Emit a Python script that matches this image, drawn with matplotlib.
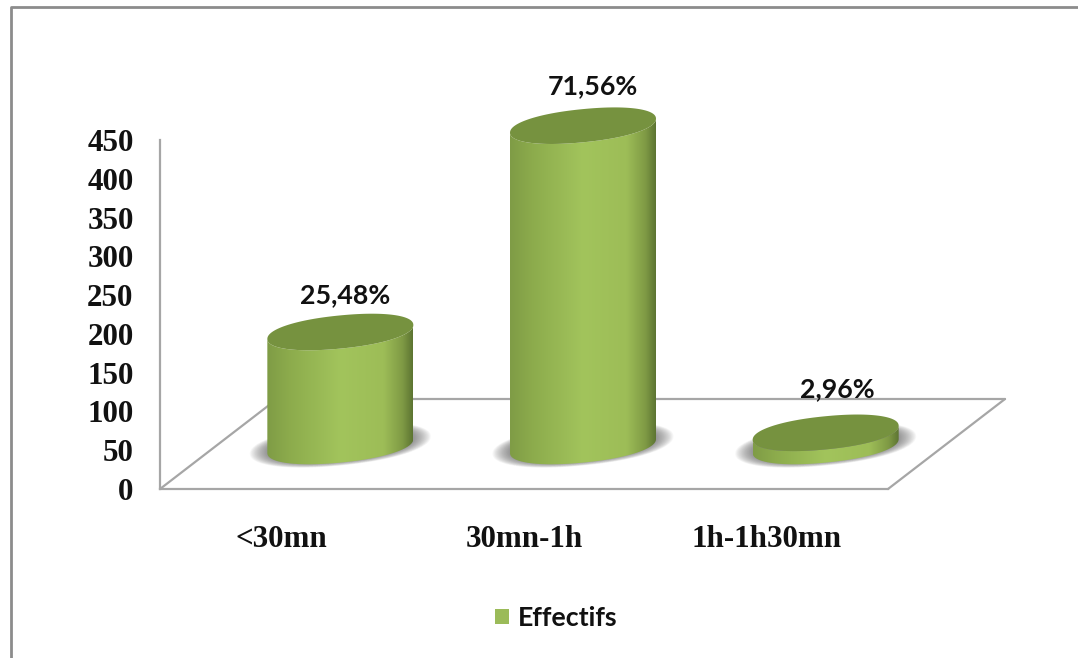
import numpy as np
import matplotlib
matplotlib.use('Agg')
import matplotlib.pyplot as plt
from matplotlib.colors import LinearSegmentedColormap
from matplotlib.lines import Line2D
from matplotlib.patches import Patch, Polygon

categories = ['<30mn', '30mn-1h', '1h-1h30mn']
effectifs = [147, 413, 17]
percent_labels = ['25,48%', '71,56%', '2,96%']
y_ticks = [0, 50, 100, 150, 200, 250, 300, 350, 400, 450]

WIDTH, HEIGHT = 1078, 658
AX_LEFT, AX_RIGHT, AX_BOTTOM, AX_TOP = 160, 888, 489, 140
X_PER_PX = 3 / (AX_RIGHT - AX_LEFT)
Y_PER_PX = 450 / (AX_BOTTOM - AX_TOP)

# floor depth and where the cylinders stand on it, in pixels
DEPTH_X, DEPTH_Y = 117, 90
BASE_X, BASE_Y = 59, 43
# ellipse of a cylinder end: half width, tilt at the tips, half height
HALF_W, TILT, HALF_H = 73, 7, 16.6
# below 1 gives the ends fuller shoulders than a plain ellipse
ROUNDNESS = 0.93

GREY = '#a6a6a6'
body_cmap = LinearSegmentedColormap.from_list('body', [
    (0.0, '#7f9c46'), (0.15, '#8cab4c'), (0.5, '#a2c45c'),
    (0.8, '#9dbd57'), (0.93, '#7f9a45'), (1.0, '#5d7532')])


def ellipse_points(xc, yc, t, scale=1.0):
    c = np.sign(np.cos(t)) * np.abs(np.cos(t)) ** ROUNDNESS
    s = np.sign(np.sin(t)) * np.abs(np.sin(t)) ** ROUNDNESS
    x = xc + scale * HALF_W * c * X_PER_PX
    y = yc + scale * (TILT * c + HALF_H * s) * Y_PER_PX
    return np.column_stack([x, y])


def draw_cylinder(ax, pos, value):
    xc = pos + BASE_X * X_PER_PX
    y0 = BASE_Y * Y_PER_PX
    y1 = y0 + value

    # soft shadow on the floor
    whole = np.linspace(0, 2 * np.pi, 160)
    for scale in np.linspace(1.24, 0.95, 26):
        pts = ellipse_points(xc, y0 + 1 * Y_PER_PX, whole, scale)
        ax.add_patch(Polygon(pts, facecolor='#555555', edgecolor='none',
                             alpha=0.04, zorder=2, clip_on=False))

    front = np.linspace(np.pi, 2 * np.pi, 100)
    outline = np.vstack([ellipse_points(xc, y0, front),
                         ellipse_points(xc, y1, front[::-1])])
    clip = Polygon(outline, transform=ax.transData, facecolor='none', edgecolor='none')
    ax.add_patch(clip)
    grad = np.linspace(0, 1, 256).reshape(1, -1)
    ymin, ymax = y0 - 30 * Y_PER_PX, y1 + 30 * Y_PER_PX
    im = ax.imshow(grad, cmap=body_cmap, aspect='auto', zorder=3,
                   extent=[xc - HALF_W * X_PER_PX, xc + HALF_W * X_PER_PX, ymin, ymax])
    im.set_clip_box(ax.figure.bbox)
    im.set_clip_path(clip)

    ax.add_patch(Polygon(ellipse_points(xc, y1, whole), facecolor='#76923f',
                         edgecolor='none', zorder=4, clip_on=False))
    return xc, y1


fig = plt.figure(figsize=(WIDTH / 100, HEIGHT / 100), dpi=100, facecolor='white')
ax = fig.add_axes([AX_LEFT / WIDTH, 1 - AX_BOTTOM / HEIGHT,
                   (AX_RIGHT - AX_LEFT) / WIDTH, (AX_BOTTOM - AX_TOP) / HEIGHT])

# floor of the 3D box
dx, dy = DEPTH_X * X_PER_PX, DEPTH_Y * Y_PER_PX
floor_style = dict(color=GREY, lw=1.6, zorder=1, clip_on=False, solid_capstyle='round')
ax.plot([-0.5, -0.5 + dx], [0, dy], **floor_style)
ax.plot([2.5, 2.5 + dx], [0, dy], **floor_style)
ax.plot([-0.5 + dx, 2.5 + dx], [dy, dy], **floor_style)

# label lift above the cylinder top and shift to the right, pixels
label_lift = [37, 40, 44]
label_shift = [5, 10, 12]
for i, value in enumerate(effectifs):
    xc, top = draw_cylinder(ax, i, value)
    ax.text(xc + label_shift[i] * X_PER_PX, top + label_lift[i] * Y_PER_PX,
            percent_labels[i], ha='center', va='center', family='Lato',
            fontweight='bold', fontsize=19.3, color='#111111', zorder=6, clip_on=False)

ax.set_xlim(-0.5, 2.5)
ax.set_ylim(0, 450)
ax.spines['top'].set_visible(False)
ax.spines['right'].set_visible(False)
for side in ['left', 'bottom']:
    ax.spines[side].set_color(GREY)
    ax.spines[side].set_linewidth(1.6)
ax.patch.set_alpha(0)

ax.set_yticks(y_ticks)
ax.set_xticks(range(len(categories)))
ax.set_xticklabels(categories)
ax.tick_params(axis='y', length=0, pad=19)
ax.tick_params(axis='x', length=0, pad=26)
for lab in ax.get_yticklabels():
    lab.set(family='Liberation Serif', fontweight='bold', fontsize=22.3, color='#111111')
for lab in ax.get_xticklabels():
    lab.set(family='Liberation Serif', fontweight='bold', fontsize=22.3, color='#111111')

handle = Patch(facecolor='#9bbb59', edgecolor='none')
fig.legend(handles=[handle], labels=['Effectifs'], loc='center',
           bbox_to_anchor=(556 / WIDTH, 1 - 618 / HEIGHT), frameon=False,
           handlelength=0.52, handleheight=0.52, handletextpad=0.34,
           prop={'family': 'Lato', 'weight': 'bold', 'size': 19.3},
           labelcolor='#111111')

# outer chart frame, open on the right and at the bottom
fig.add_artist(Line2D([11 / WIDTH, 11 / WIDTH, 1], [0, 1 - 7 / HEIGHT, 1 - 7 / HEIGHT],
                      color='#8c8c8c', lw=2, transform=fig.transFigure))

fig.savefig('out.png', dpi=100)
